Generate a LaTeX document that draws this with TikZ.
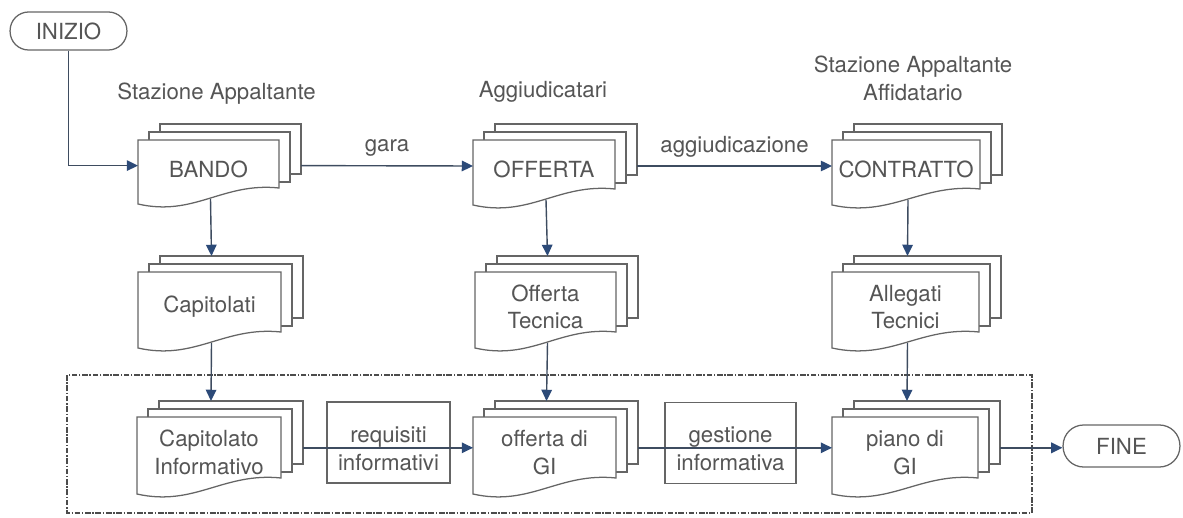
\documentclass[tikz,border=0pt]{standalone}
\usepackage{fontspec}
\setmainfont{TeX Gyre Heros}
\usetikzlibrary{arrows.meta,calc}

\definecolor{inkline}{HTML}{3E4C60}
\definecolor{inkhead}{HTML}{2C4A78}
\definecolor{pageline}{HTML}{656565}
\definecolor{txt}{HTML}{555555}

% A stack of three documents: name, left, top, right, bottom (left corner), text
\newcommand{\docstack}[6]{%
  \draw[page] ({#2+22},{#3-8}) -- ({#2+22},{#3-16}) -- ({#4+22},{#3-16}) -- ({#4+22},{#5-30}) -- ({#4+11},{#5-30});
  \draw[page] ({#2+11},{#3}) -- ({#2+11},{#3-8}) -- ({#4+11},{#3-8}) -- ({#4+11},{#5-22}) -- ({#4},{#5-22});
  \draw[page,fill=white] ({#2},{#3}) -- ({#4},{#3}) -- ({#4},{#5-16})
     .. controls ({#2+0.6*(#4-#2)},{#5-22}) and ({#2+0.4*(#4-#2)},{#5+13}) .. ({#2},{#5}) -- cycle;
  \node[doctext] (#1) at ({(#2+#4)/2},{(#3+#5)/2-3}) {#6};
  \coordinate (#1-in)  at ({#2},{#3+0.4*(#5-#3)});
  \coordinate (#1-out) at ({#4+22},{#3+0.4*(#5-#3)});
  \coordinate (#1-top) at ({(#2+#4)/2+2},{#3-16});
  \coordinate (#1-bot) at ({(#2+#4)/2+2},{#5-5});
}

\begin{document}
\begin{tikzpicture}[x=0.025cm,y=-0.025cm,
  every node/.style={text=txt,font=\fontsize{15.8pt}{19.5pt}\selectfont},
  page/.style={draw=pageline,line width=0.9pt,line join=miter},
  doctext/.style={align=center,inner sep=0pt},
  lbl/.style={align=center,inner sep=2pt},
  terminal/.style={draw=pageline,line width=0.9pt,
    minimum width=2.92cm,inner sep=0pt},
  infobox/.style={draw=pageline,line width=0.9pt,minimum width=3.07cm,
    minimum height=2.02cm,inner sep=0pt},
  conn/.style={draw=inkline,line width=1pt,
    -{Triangle[length=8pt,width=7.5pt,fill=inkhead,color=inkhead]}},
  frame/.style={draw=black!70,line width=1pt,
    dash pattern=on 4pt off 1.2pt on 1pt off 1.2pt}
]
\useasboundingbox (0,0) rectangle (1183,518);

% region holding the information-management documents
\draw[frame] (67,375) rectangle (1032,513);

% start and end terminals
\node[terminal,minimum height=0.95cm,rounded corners=13.2pt] (inizio) at (68.5,31) {INIZIO};
\node[terminal,minimum height=1.05cm,rounded corners=14.6pt] (fine) at (1121.5,446) {FINE};

% actors
\node[lbl] (att1) at (216.5,94) {Stazione Appaltante};
\node[lbl] (att2) at (543,92) {Aggiudicatari};
\node[lbl] (att3) at (913,78.5) {Stazione Appaltante\\Affidatario};

% documents
\docstack{bando}{138}{140}{279}{204}{BANDO}
\docstack{offerta}{473}{140}{615}{205}{OFFERTA}
\docstack{contratto}{832}{140}{980}{205}{CONTRATTO}
\docstack{capitolati}{138}{272}{281}{348}{Capitolati}
\docstack{offtec}{475}{272}{616}{348}{Offerta\\Tecnica}
\docstack{allegati}{832}{272}{979}{348}{Allegati\\Tecnici}
\docstack{capinf}{137}{417}{281}{494}{Capitolato\\Informativo}
\docstack{offgi}{473}{417}{616}{494}{offerta di\\GI}
\docstack{piano}{832}{417}{978}{494}{piano di\\GI}

% flow boxes on the bottom row
\node[infobox] (req) at (388.5,442.5) {};
\node[lbl] (req-text) at (388.5,449) {requisiti\\informativi};
\node[infobox,minimum width=3.27cm] (gest) at (730.5,443) {};
\node[lbl] (gest-text) at (730.5,449) {gestione\\informativa};

% connectors
\draw[conn] (inizio.south) |- (bando-in);
\draw[conn] (bando-out) -- node[lbl,above=4pt] (gara) {gara} (offerta-in);
\draw[conn] (offerta-out) -- node[lbl,above=4pt] (aggiud) {aggiudicazione} (contratto-in);
\draw[conn] (bando-bot) -- (capitolati-top);
\draw[conn] (capitolati-bot) -- (capinf-top);
\draw[conn] (offerta-bot) -- (offtec-top);
\draw[conn] (offtec-bot) -- (offgi-top);
\draw[conn] (contratto-bot) -- (allegati-top);
\draw[conn] (allegati-bot) -- (piano-top);
\draw[conn] (capinf-out) -- (offgi-in);
\draw[conn] (offgi-out) -- (piano-in);
\draw[conn] (piano-out) -- (piano-out -| fine.west);
\end{tikzpicture}
\end{document}
